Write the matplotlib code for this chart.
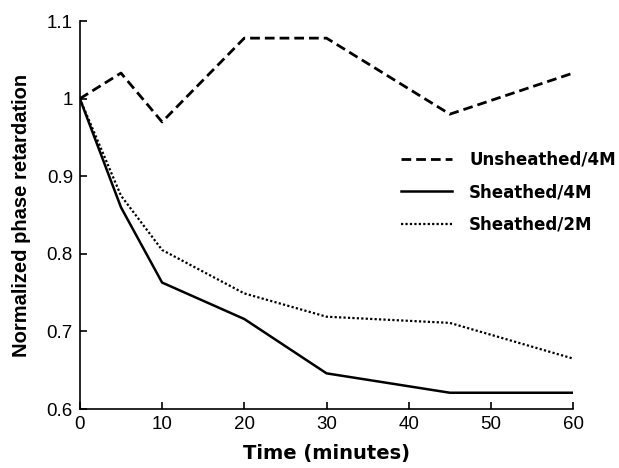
import numpy as np
import matplotlib.pyplot as plt

# time points (minutes)
t = [0, 5, 10, 20, 30, 45, 60]

unsheathed_4m = [1.0, 1.033, 0.970, 1.078, 1.078, 0.980, 1.033]
sheathed_4m = [1.0, 0.860, 0.763, 0.716, 0.646, 0.621, 0.621]
sheathed_2m = [1.0, 0.875, 0.805, 0.749, 0.719, 0.711, 0.665]

labels = ['Unsheathed/4M', 'Sheathed/4M', 'Sheathed/2M']

fig = plt.figure(figsize=(6.19, 4.68), dpi=100)
ax = fig.add_axes([0.129, 0.126, 0.797, 0.829])

ax.plot(t, unsheathed_4m, color='black', lw=2, ls=(0, (3.5, 1.8)), label=labels[0])
ax.plot(t, sheathed_4m, color='black', lw=1.8, ls='-', label=labels[1])
ax.plot(t, sheathed_2m, color='black', lw=1.6, ls=(0, (1, 1)), label=labels[2])

ax.set_xlim(0, 60)
ax.set_ylim(0.6, 1.1)
ax.set_xticks(np.arange(0, 61, 10))
ax.set_yticks([0.6, 0.7, 0.8, 0.9, 1.0, 1.1])
ax.set_yticklabels(['0.6', '0.7', '0.8', '0.9', '1', '1.1'])

for s in ['top', 'right']:
    ax.spines[s].set_visible(False)
ax.spines['left'].set_linewidth(1.2)
ax.spines['bottom'].set_linewidth(1.2)
ax.tick_params(direction='in', length=5, width=1.2, labelsize=13.5, pad=5)
for lab in ax.get_xticklabels() + ax.get_yticklabels():
    lab.set_family('Liberation Sans')

ax.set_xlabel('Time (minutes)', fontsize=14, fontweight='bold', family='DejaVu Sans', labelpad=8)
ax.set_ylabel('Normalized phase retardation', fontsize=14.5, fontweight='bold', family='Liberation Sans', labelpad=11)

leg = ax.legend(loc='upper left', bbox_to_anchor=(0.62, 0.705), frameon=False,
                prop={'family': 'DejaVu Sans', 'weight': 'bold', 'size': 12},
                handlelength=3.1, labelspacing=0.88, handletextpad=1.0)

fig.savefig('out.png', dpi=100)
